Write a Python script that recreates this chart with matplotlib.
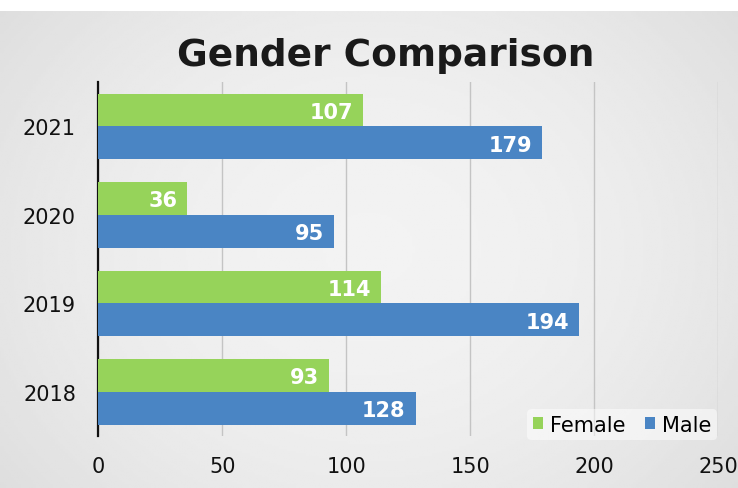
import matplotlib
matplotlib.use("Agg")
import matplotlib.pyplot as plt
import numpy as np

years = ["2018", "2019", "2020", "2021"]
female = [93, 114, 36, 107]
male = [128, 194, 95, 179]

green = "#96d35a"
blue = "#4a85c4"
font = "DejaVu Sans"

fig = plt.figure(figsize=(7.38, 4.89), dpi=100)
fig.patch.set_facecolor("white")

# gray paper-like background with a lighter middle
bg = fig.add_axes([0, 0, 1, 0.975], zorder=-5)
yy, xx = np.mgrid[-1:1:200j, -1:1:300j]
shade = 0.95 - 0.05 * (xx ** 2 + 0.6 * yy ** 2)
bg.imshow(shade, cmap="gray", vmin=0, vmax=1, aspect="auto", extent=[0, 1, 0, 1])
bg.axis("off")

ax = fig.add_axes([0.133, 0.106, 0.84, 0.724])
ax.set_facecolor("none")

y = np.arange(len(years))
h = 0.37
bf = ax.barh(y + h / 2, female, height=h, color=green, label="Female", zorder=3)
bm = ax.barh(y - h / 2, male, height=h, color=blue, label="Male", zorder=3)

for bars, vals in [(bf, female), (bm, male)]:
    for b, v in zip(bars, vals):
        ax.text(v - 4, b.get_y() + b.get_height() / 2 - 0.02, str(v), ha="right", va="center",
                color="white", fontsize=15, fontweight="bold", zorder=4)

ax.set_xlim(0, 250)
ax.set_ylim(-0.5, 3.5)
ax.set_xticks(range(0, 251, 50))
ax.set_yticks(y)
ax.set_yticklabels(years)
ax.tick_params(axis="x", length=0, pad=14, labelsize=15, colors="#111111")
ax.tick_params(axis="y", length=0, pad=16, labelsize=15, colors="#111111")
ax.xaxis.grid(True, color="#c4c4c4", linewidth=1)
for s in ["top", "right", "bottom"]:
    ax.spines[s].set_visible(False)
ax.spines["left"].set_color("#111111")
ax.spines["left"].set_linewidth(1.6)

fig.text(0.523, 0.885, "Gender Comparison", ha="center", va="center",
         fontsize=27, fontweight="bold", color="#1a1a1a")

leg = ax.legend(loc="lower right", frameon=True, ncol=2, fontsize=15, handlelength=0.5,
                handleheight=0.5, handletextpad=0.35, columnspacing=0.9,
                borderpad=0.25, bbox_to_anchor=(1.015, -0.04))
leg.get_frame().set_facecolor("white")
leg.get_frame().set_alpha(0.5)
leg.get_frame().set_edgecolor("none")

fig.savefig("out.png", dpi=100, facecolor=fig.get_facecolor())
